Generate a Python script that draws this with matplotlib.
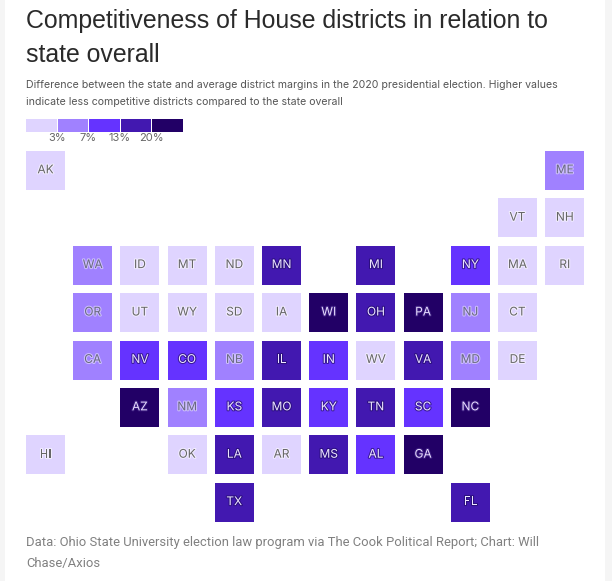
import matplotlib
matplotlib.use("Agg")
import matplotlib.pyplot as plt
import matplotlib.patheffects as pe
from matplotlib.colors import BoundaryNorm, ListedColormap
from matplotlib.patches import Rectangle

W, H = 612, 581
BREAKS = [0, 3, 7, 13, 20, 30]
COLORS = ["#DFD4FF", "#A081FF", "#6533FF", "#4218B0", "#220066"]
TEXTC = ["#666666", "#6A6A80", "#EDE6FF", "#EDE6FF", "#E8DEFF"]
HALO = ["#F2EDFF", "#CDBEFF", "#3A1A99", "#2C0F80", "#3A1A80"]

states = ["AK","ME","VT","NH","WA","ID","MT","ND","MN","MI","NY","MA","RI",
          "OR","UT","WY","SD","IA","WI","OH","PA","NJ","CT",
          "CA","NV","CO","NB","IL","IN","WV","VA","MD","DE",
          "AZ","NM","KS","MO","KY","TN","SC","NC",
          "HI","OK","LA","AR","MS","AL","GA","TX","FL"]
cols = [0,11,10,11,1,2,3,4,5,7,9,10,11,
        1,2,3,4,5,6,7,8,9,10,
        1,2,3,4,5,6,7,8,9,10,
        2,3,4,5,6,7,8,9,
        0,3,4,5,6,7,8,4,9]
rows = [0,0,1,1,2,2,2,2,2,2,2,2,2,
        3,3,3,3,3,3,3,3,3,3,
        4,4,4,4,4,4,4,4,4,4,
        5,5,5,5,5,5,5,5,
        6,6,6,6,6,6,6,7,7]
values = [1.5,5,2,2,5,2,2,1.5,16,17,10,1.5,1.5,
          5,2,1.5,2,2,24,16,24,5,2,
          5,10,10,5,16,11,2,16,5,1.5,
          24,5,11,16,11,16,10,24,
          1.5,2,16,2,16,11,24,16,17]

legend_labels = ["3%", "7%", "13%", "20%"]

title = "Competitiveness of House districts in relation to\nstate overall"
subtitle = ("Difference between the state and average district margins in the 2020 presidential election. Higher values\n"
            "indicate less competitive districts compared to the state overall")
source = "Data: Ohio State University election law program via The Cook Political Report; Chart: Will\nChase/Axios"

fig = plt.figure(figsize=(W/100, H/100), dpi=100, facecolor="white")
ax = fig.add_axes([0, 0, 1, 1])
ax.set_xlim(0, W); ax.set_ylim(H, 0); ax.axis("off")
ax.add_patch(Rectangle((0, 0), 5, H, color="#F5F5F5", lw=0))
ax.add_patch(Rectangle((604.5, 0), W-604.5, H, color="#F5F5F5", lw=0))

cmap = ListedColormap(COLORS)
norm = BoundaryNorm(BREAKS, cmap.N)

# Tile grid
X0, Y0, DX, DY, S = 26, 151, 47.2, 47.4, 39
for st, c, r, v in zip(states, cols, rows, values):
    lvl = int(norm(v))
    x, y = X0 + c*DX, Y0 + r*DY
    ax.add_patch(Rectangle((x, y), S, S, facecolor=cmap(norm(v)), edgecolor="none"))
    ax.text(x + S/2, y + S/2 - 0.2, st, ha="center", va="center", fontsize=8.6,
            family="Inter", color=TEXTC[lvl],
            path_effects=[pe.withStroke(linewidth=1.5, foreground=HALO[lvl])])

# Legend
LX, LW, LY, LH = 26, 31.5, 119.4, 12.6
for i, col in enumerate(COLORS):
    ax.add_patch(Rectangle((LX + i*LW, LY), LW - 0.8, LH, facecolor=col, edgecolor="none"))
for i, lab in enumerate(legend_labels):
    ax.text(LX + (i+1)*LW - 0.5, 138, lab, ha="center", va="center",
            fontsize=8, family="Inter", color="#666666")

ax.text(26, 38, title, fontsize=17.95, family="Liberation Sans", color="#2A2A2A", va="center",
        ha="left", linespacing=1.5)
ax.text(26, 93.5, subtitle, fontsize=7.6, family="Inter", color="#555555", va="center",
        ha="left", linespacing=1.89)
ax.text(26, 553, source, fontsize=9.35, family="Roboto", color="#808080", va="center",
        ha="left", linespacing=1.85)

fig.savefig("out.png", dpi=100, facecolor="white")
